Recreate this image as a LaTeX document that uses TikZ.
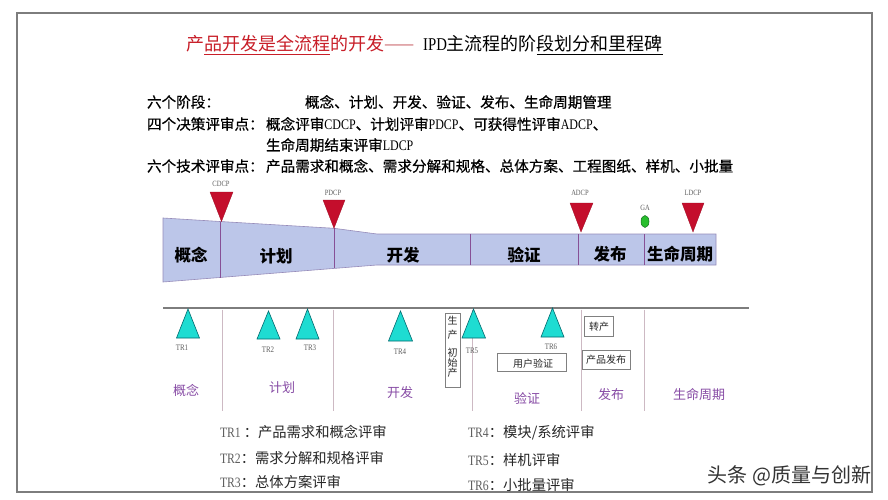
\documentclass[tikz,border=0pt]{standalone}
\usepackage{fontspec}
\setmainfont{Noto Sans CJK SC}
\newfontfamily\cjkmed[FakeBold=0.6]{Noto Sans CJK SC}
\newfontfamily\lsf[FakeStretch=0.82]{Liberation Serif}
\usetikzlibrary{shapes.geometric}
\definecolor{titlered}{RGB}{200,30,40}
\definecolor{dashred}{RGB}{205,110,115}
\definecolor{funfill}{RGB}{188,198,233}
\definecolor{funline}{RGB}{150,140,185}
\definecolor{divline}{RGB}{135,80,150}
\definecolor{dcpred}{RGB}{196,14,44}
\definecolor{cyanfill}{RGB}{30,220,210}
\definecolor{cyanline}{RGB}{0,105,110}
\definecolor{phasepurple}{RGB}{135,75,165}
\definecolor{vline}{RGB}{205,185,195}
\definecolor{framegray}{RGB}{125,125,125}
\definecolor{labgray}{RGB}{95,95,95}
\definecolor{gagreen}{RGB}{40,190,45}
\definecolor{gadark}{RGB}{20,110,30}
\begin{document}
\begin{tikzpicture}[x=1pt,y=-1pt,
  every node/.style={inner sep=0pt,outer sep=0pt},
  fz/.style={font=\fontsize{#1}{#1}\selectfont},
  body/.style={font=\cjkmed\fontsize{14.6}{14.6}\selectfont,anchor=west,text=black},
  stagetxt/.style={font=\fontsize{16.5}{16.5}\selectfont\bfseries,text=black},
  dcp/.style={fill=dcpred,draw=dcpred!80!black,line width=0.3pt},
  mslab/.style={font=\lsf\fontsize{8}{8}\selectfont,text=labgray},
  trtri/.style={fill=cyanfill,draw=cyanline,line width=0.6pt},
  trlab/.style={font=\lsf\fontsize{8.5}{8.5}\selectfont,text=labgray},
  boxsty/.style={draw=gray,fill=white,line width=0.6pt},
  smalltxt/.style={fz=10,text=black!85},
  phase/.style={fz=13,text=phasepurple},
  legend/.style={fz=14.3,anchor=west,text=black!85},
  divsty/.style={draw=divline,line width=0.7pt},
  vsty/.style={draw=vline,line width=0.6pt}]
\path[use as bounding box,fill=white] (0,0) rectangle (888,500);

% title
\node[fz=18,anchor=west] (title) at (186,45)
  {{\color{titlered}产\underline{品开发是全流程}的开发}{\color{dashred}——}\hspace{9pt}{\lsf IPD}主流程的阶\underline{段划分和里程碑}};

% text block
\node[body] (l1a) at (147,102) {六个阶段：};
\node[body] (l1b) at (305,102) {概念、计划、开发、验证、发布、生命周期管理};
\node[body] (l2a) at (147,124) {四个决策评审点：};
\node[body] (l2b) at (266,124) {概念评审{\lsf CDCP}、计划评审{\lsf PDCP}、可获得性评审{\lsf ADCP}、};
\node[body] (l3b) at (266,145) {生命周期结束评审{\lsf LDCP}};
\node[body] (l4a) at (147,166) {六个技术评审点：};
\node[body] (l4b) at (266,166) {产品需求和概念、需求分解和规格、总体方案、工程图纸、样机、小批量};

% funnel
\path[fill=funfill,draw=funline,line width=0.6pt]
  (163,218) -- (220,221.5) -- (334,228.3) -- (377,234) -- (716,234)
  -- (716,265) -- (377,265) -- (163,282) -- cycle;
\draw[divsty] (220,221.5) -- (220,277.5);
\draw[divsty] (334,228.3) -- (334,268.4);
\draw[divsty] (470,234) -- (470,265);
\draw[divsty] (578,234) -- (578,265);
\draw[divsty] (644,234) -- (644,265);

\node[stagetxt] (s1) at (191,255) {概念};
\node[stagetxt] (s2) at (276,256) {计划};
\node[stagetxt] (s3) at (403,255) {开发};
\node[stagetxt] (s4) at (524,255) {验证};
\node[stagetxt] (s5) at (610,254) {发布};
\node[stagetxt] (s6) at (680,254) {生命周期};

% decision points
\path[dcp] (210,192) -- (233,192) -- (221.5,221.5) -- cycle;
\path[dcp] (323,200) -- (345,200) -- (334,228.3) -- cycle;
\path[dcp] (570,203) -- (593,203) -- (581,232) -- cycle;
\path[dcp] (682,203) -- (704,203) -- (693,232) -- cycle;
\node[mslab] (cdcp) at (221,184) {CDCP};
\node[mslab] (pdcp) at (333,193) {PDCP};
\node[mslab] (adcp) at (580,193) {ADCP};
\node[mslab] (ldcp) at (693,193) {LDCP};
\node[mslab] (ga) at (645,208) {GA};
\node[ellipse,fill=gagreen,draw=gadark,line width=0.5pt,minimum width=8pt,minimum height=12pt] (gadot) at (645,221.5) {};

% lower part
\draw[framegray,line width=1.3pt] (163,308) -- (749,308);
\foreach \xx/\n in {222.5/a,333.5/b,472.5/c,581/d,644/e}
  \draw[vsty] (\xx,309.5) -- (\xx,411);

\path[trtri] (188,309) -- (199.5,338) -- (176.5,338) -- cycle;
\path[trtri] (268.5,311) -- (280,339) -- (257,339) -- cycle;
\path[trtri] (307.5,309) -- (319,339) -- (296,339) -- cycle;
\path[trtri] (400.5,311) -- (412.5,341) -- (388.5,341) -- cycle;
\path[trtri] (473.5,309) -- (485.5,338) -- (462,338) -- cycle;
\path[trtri] (552.5,308) -- (564,337) -- (541,337) -- cycle;
\node[trlab] (tr1) at (182,348) {TR1};
\node[trlab] (tr2) at (268,350) {TR2};
\node[trlab] (tr3) at (310,348) {TR3};
\node[trlab] (tr4) at (400,352) {TR4};
\node[trlab] (tr5) at (472,351) {TR5};
\node[trlab] (tr6) at (551,347) {TR6};

% boxes
\path[boxsty] (445,313) rectangle (460.5,387);
\foreach \c/\yy/\n in {生/321/a,产/335/b,初/353/c,始/363/d,产/373/e}
  \node[smalltxt,name=vt\n] at (452.5,\yy) {\c};
\path[boxsty] (497,353) rectangle (566,371);
\node[smalltxt] (yhyz) at (533,363.5) {用户验证};
\path[boxsty] (584,316) rectangle (613,336);
\node[smalltxt] (zc) at (599,327) {转产};
\path[boxsty] (582.5,350) rectangle (630,369);
\node[smalltxt] (cpfb) at (606,360) {产品发布};

% phase labels
\node[phase] (p1) at (186,390) {概念};
\node[phase] (p2) at (282,388) {计划};
\node[phase] (p3) at (400,393) {开发};
\node[phase] (p4) at (527,398) {验证};
\node[phase] (p5) at (611,395) {发布};
\node[phase] (p6) at (699,395) {生命周期};

% legend
\node[legend] (lg1) at (220,432) {{\lsf\color{labgray}TR1 }：产品需求和概念评审};
\node[legend] (lg2) at (220,458) {{\lsf\color{labgray}TR2}：需求分解和规格评审};
\node[legend] (lg3) at (220,482) {{\lsf\color{labgray}TR3}：总体方案评审};
\node[legend] (lg4) at (468,433) {{\lsf\color{labgray}TR4}：模块/系统评审};
\node[legend] (lg5) at (468,460) {{\lsf\color{labgray}TR5}：样机评审};
\node[legend] (lg6) at (468,485) {{\lsf\color{labgray}TR6}：小批量评审};

% clip below frame
\fill[white] (0,492.6) rectangle (888,500);
% frame
\draw[framegray,line width=1.2pt] (17,13) rectangle (872,492);

% watermark
\node[fz=20,anchor=east,text=black!80] (wm) at (871,476) {头条 @质量与创新};
\end{tikzpicture}
\end{document}
